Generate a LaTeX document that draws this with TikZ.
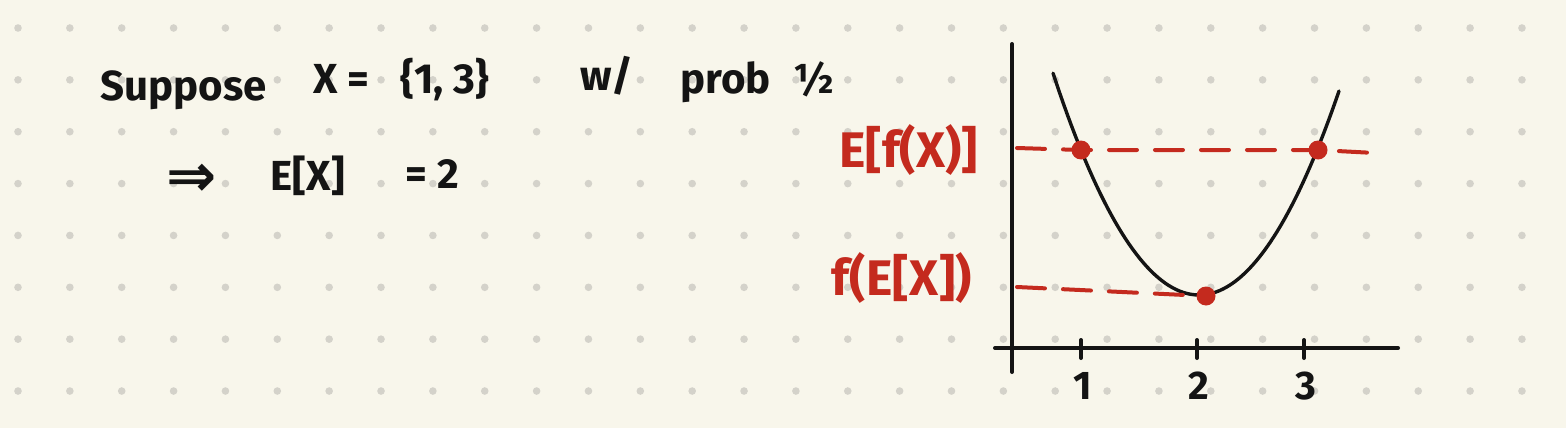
\documentclass[tikz,border=0pt]{standalone}
\usepackage{fontspec}
\setmainfont{Fira Sans}
\newfontfamily\arrowfont{DejaVu Sans}
\usepackage{tikz}
\usetikzlibrary{calc}

\definecolor{paper}{HTML}{F8F6EB}
\definecolor{griddot}{HTML}{D4D2CA}
\definecolor{ink}{HTML}{141414}
\definecolor{redink}{HTML}{C42A1E}

\begin{document}
\begin{tikzpicture}[
    x=0.5pt, y=-0.5pt,
    note/.style={anchor=base west, inner sep=0pt, text=ink, font=\fontsize{21}{25}\selectfont\bfseries},
    redlabel/.style={anchor=east, inner sep=0pt, text=redink, font=\fontsize{25}{29}\selectfont\bfseries},
    ticklabel/.style={inner sep=0pt, text=ink, font=\fontsize{20}{24}\selectfont\bfseries},
    axis/.style={ink, line width=2pt, line cap=round},
    reddash/.style={redink, line width=2pt, dash pattern=on 14pt off 9pt, line cap=round},
    reddot/.style={circle, fill=redink, inner sep=0pt, minimum size=9.5pt}
]
% paper and dot grid
\fill[paper] (0,0) rectangle (1566,428);
\useasboundingbox (0,0) rectangle (1566,428);
\foreach \i in {0,...,29}
  \foreach \j in {0,...,7}
    \fill[griddot] (18+51.86*\i, 28+51.86*\j) circle (1.9pt);

% left notes
\node[note] (suppose) at (100,100) {Suppose};
\node[note] (xeq) at (313,93) {X =};
\node[note] (set) at (400,93) {\{1, 3\}};
\node[note] (with) at (580,90) {w/};
\node[note] (prob) at (680,93) {prob};
\node[note] (half) at (793,93) {½};
\node[note] (implies) at (166,196) {{\arrowfont\fontsize{30}{34}\selectfont\bfseries ⇒}};
\node[note] (ex) at (270,190) {E[X]};
\node[note] (eqtwo) at (405,188) {= 2};

% axes
\coordinate (yaxtop) at (1012,44);
\coordinate (yaxbot) at (1012,372);
\coordinate (xaxl) at (995,348);
\coordinate (xaxr) at (1398,348);
\draw[axis] (yaxtop) -- (yaxbot);
\draw[axis] (xaxl) -- (xaxr);
\foreach \tx/\lab in {1081/1, 1197/2, 1304/3} {
  \draw[axis] (\tx,340) -- (\tx,358);
  \node[ticklabel] (tick\lab) at (\tx+2,386) {\lab};
}

% convex curve
\draw[ink, line width=1.7pt, line cap=round]
  plot[domain=1053:1339, samples=80] (\x, {295-0.0104*(\x-1199)*(\x-1199)});

% points and levels
\node[reddot] (dl) at (1081,150) {};
\node[reddot] (dr) at (1318,150) {};
\node[reddot] (dm) at (1206,296) {};
\coordinate (levtop) at (1017,148);
\coordinate (levend) at (1375,153);
\coordinate (levbot) at (1017,287);
\draw[reddash] (levtop) -- (dl.center) -- (dr.center) -- (levend);
\draw[reddash] (levbot) -- (dm.center);

\node[redlabel] (efx) at (978,150) {E[f(X)]};
\node[redlabel] (fex) at (972,278) {f(E[X])};
\end{tikzpicture}
\end{document}
